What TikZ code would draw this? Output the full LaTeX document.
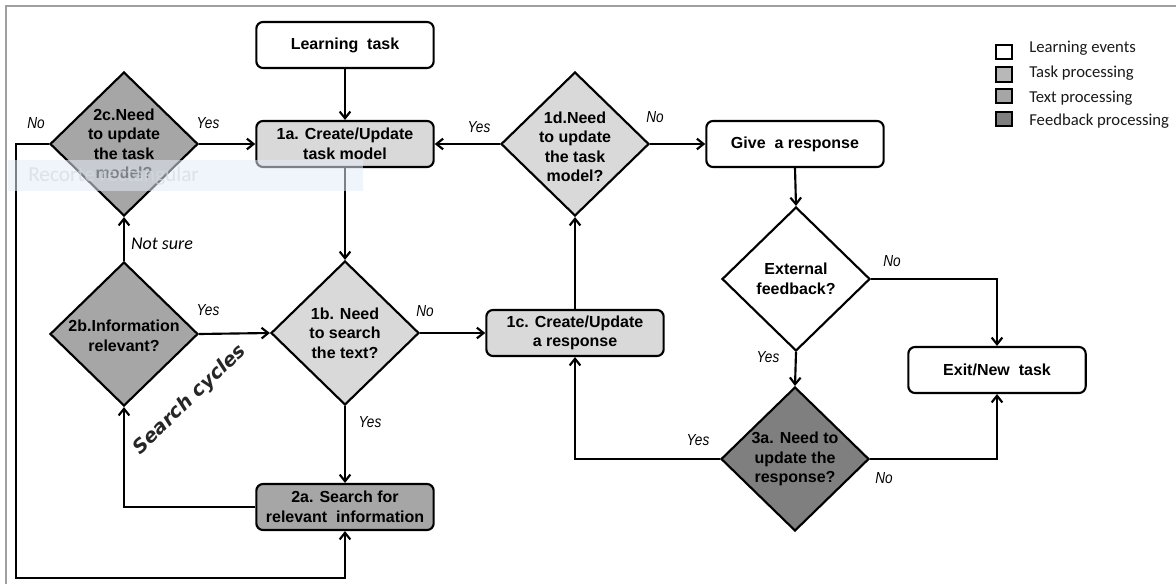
\documentclass[tikz,border=0pt]{standalone}
\usepackage{fontspec}
\setmainfont{Liberation Sans}
\newfontfamily\legendfont{Carlito}
\newfontfamily\labelfont[FakeStretch=0.85]{Liberation Sans}
\newfontfamily\cyclefont{DejaVu Sans}
\usetikzlibrary{shapes.geometric,arrows.meta}
\definecolor{taskgray}{HTML}{D9D9D9}
\definecolor{textgray}{HTML}{A6A6A6}
\definecolor{feedgray}{HTML}{7F7F7F}
\definecolor{framegray}{HTML}{A0A0A0}
\definecolor{snipblue}{HTML}{E4ECF7}
\definecolor{sniptext}{HTML}{D3DAE3}
\begin{document}
\begin{tikzpicture}[x=0.75pt,y=0.75pt]
	\tikzstyle{every node}+=[inner sep=0pt]
	\tikzstyle{event}=[draw, rounded corners=5pt, line width=1.6pt, minimum width=133pt, minimum height=34.5pt, align=center, font=\bfseries\fontsize{12}{14.6}\selectfont]
	\tikzstyle{decision}=[draw, diamond, line width=1.6pt, minimum width=111pt, minimum height=108pt]
	\tikzstyle{qtext}=[align=center, font=\bfseries\fontsize{12}{14.6}\selectfont]
	\tikzstyle{answer}=[font=\labelfont\itshape\fontsize{12}{14}\selectfont]
	\tikzstyle{flow}=[line width=1.6pt, -{Straight Barb[length=5pt,width=8pt]}]
	\tikzstyle{key}=[draw, line width=1.6pt, minimum width=11.5pt, minimum height=11pt]
	\tikzstyle{keytext}=[anchor=west, text=black!90, font=\legendfont\fontsize{12.5}{14}\selectfont]
	\useasboundingbox (0,0) rectangle (1176,-584);
	\draw [framegray, line width=1.1pt] (6,-584) -- (6,-6) -- (1176,-6);
	\node [event] (tlt) at (345,-45) {Learning~ task};
	\node [event, fill=taskgray] (t1a) at (345,-144) {1a. Create/Update\\task model};
	\node [event] (tgr) at (795,-144) {Give~ a response};
	\node [event, fill=taskgray] (t1c) at (575,-333) {1c. Create/Update\\a response};
	\node [event] (tex) at (997,-370) {Exit/New~ task};
	\node [event, fill=textgray] (t2a) at (345,-507) {2a. Search for\\relevant~ information};
	\node [decision, fill=textgray] (q2c) at (124,-144) {};
	\node [qtext] (q2ct) at (124,-144) {2c.Need\\to update\\the task\\model?};
	\node [decision, fill=taskgray] (q1d) at (575,-144) {};
	\node [qtext] (q1dt) at (575,-147) {1d.Need\\to update\\the task\\model?};
	\node [decision, fill=textgray] (q2b) at (124,-334) {};
	\node [qtext] (q2bt) at (124,-336) {2b.Information\\relevant?};
	\node [decision, fill=taskgray] (q1b) at (345,-333) {};
	\node [qtext] (q1bt) at (345,-333) {1b. Need\\to search\\the text?};
	\node [decision, fill=white] (qef) at (796,-279) {};
	\node [qtext] (qeft) at (796,-279) {External\\feedback?};
	\node [decision, fill=feedgray] (q3a) at (795,-459) {};
	\node [qtext] (q3at) at (795,-459) {3a. Need to\\update the\\response?};
	\coordinate (loop) at (16,-578);
	\draw [flow] (tlt) -- (t1a);
	\draw [flow] (q2c.east) -- (t1a.west);
	\draw [flow] (q2c.west) -| (loop) -| (t2a.south);
	\draw [flow] (t1a) -- (q1b.north);
	\draw [flow] (q2b.north) -- (q2c.south);
	\draw [flow] (q2b.east) -- (q1b.west);
	\draw [flow] (q1b.east) -- (t1c.west);
	\draw [flow] (q1b.south) -- (t2a.north);
	\draw [flow] (t2a.west) -| (q2b.south);
	\draw [flow] (t1c.north) -- (q1d.south);
	\draw [flow] (q1d.west) -- (t1a.east);
	\draw [flow] (q1d.east) -- (tgr.west);
	\draw [flow] (tgr.south) -- (qef.north);
	\draw [flow] (qef.east) -| (tex.north);
	\draw [flow] (qef.south) -- (q3a.north);
	\draw [flow] (q3a.west) -| (t1c.south);
	\draw [flow] (q3a.east) -| (tex.south);
	\node [answer] (a2cno) at (36,-123) {No};
	\node [answer] (a2cyes) at (208,-123) {Yes};
	\node [font=\legendfont\itshape\fontsize{13.5}{15}\selectfont] (a2bns) at (162,-244) {Not sure};
	\node [answer] (a2byes) at (208,-310) {Yes};
	\node [answer] (a1bno) at (425,-311) {No};
	\node [answer] (a1byes) at (370,-422) {Yes};
	\node [answer] (a1dyes) at (479,-127) {Yes};
	\node [answer] (a1dno) at (655,-117) {No};
	\node [answer] (aefno) at (892,-261) {No};
	\node [answer] (aefyes) at (768,-357) {Yes};
	\node [answer] (a3ayes) at (698,-440) {Yes};
	\node [answer] (a3ano) at (884,-478) {No};
	\node [rotate=44, text=black!85, font=\cyclefont\bfseries\itshape\fontsize{14.5}{16}\selectfont] (cycles) at (190,-400) {Search cycles};
	\node [key, fill=white] (kle) at (1004,-52) {};
	\node [key, fill=taskgray!85!black] (ktp) at (1004,-74.5) {};
	\node [key, fill=textgray] (kxp) at (1004,-96) {};
	\node [key, fill=feedgray] (kfp) at (1004,-119) {};
	\node [keytext] (tle) at (1029,-48) {Learning events};
	\node [keytext] (ttp) at (1029,-73) {Task processing};
	\node [keytext] (txp) at (1029,-98) {Text processing};
	\node [keytext] (tfp) at (1029,-121) {Feedback processing};
	\fill [snipblue, opacity=0.55] (8,-160) rectangle (363,-191);
	\node [anchor=west, text=sniptext, text opacity=0.7, font=\legendfont\fontsize{16}{18}\selectfont] (snip) at (28,-176) {Recorte rectangular};
\end{tikzpicture}
\end{document}
